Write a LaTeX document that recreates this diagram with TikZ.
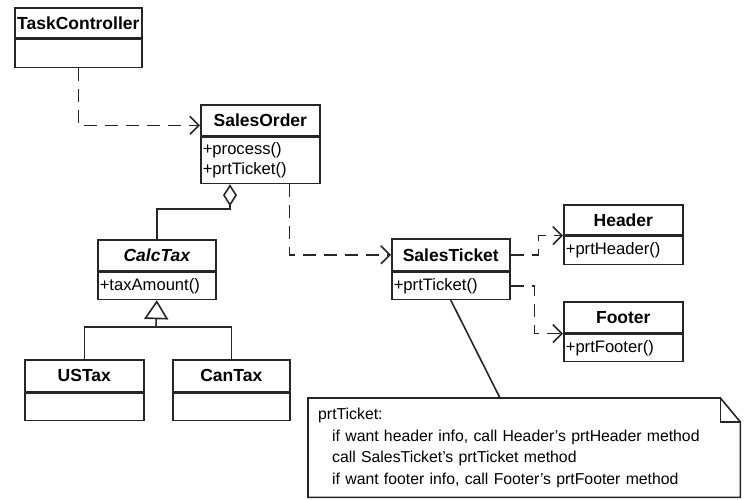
\documentclass[tikz,border=0pt]{standalone}
\usepackage{fontspec}
\setmainfont{Liberation Sans}
\usepackage{tikz}
\usetikzlibrary{arrows.meta,positioning}
\tikzset{
  line/.style={line width=1.6pt,draw=black!85},
  dep/.style={line,dash pattern=on 13pt off 8pt,-{Straight Barb[length=9pt,width=18pt]}},
  aggr/.style={line,-{Diamond[open,length=22pt,width=14pt]}},
  inh/.style={line,-{Triangle[open,length=19pt,width=24pt]}},
  classhead/.style={draw=black!85,line width=1.6pt,inner sep=0pt,anchor=north west,
                    font=\fontsize{17.5}{20}\selectfont\bfseries},
  classbody/.style={draw=black!85,line width=1.6pt,inner xsep=2pt,inner ysep=0pt,
                    align=left,font=\fontsize{16.6}{20}\selectfont},
  notetext/.style={inner xsep=10pt,inner ysep=0pt,align=left,anchor=north west,
                   font=\fontsize{15.8}{21.5}\selectfont}
}
\begin{document}
\begin{tikzpicture}[x=1pt,y=-1pt]
  \useasboundingbox (0,0) rectangle (744,499);

  % classes
  \node[classhead,minimum width=127pt,minimum height=30pt] (tc) at (14,7) {TaskController};
  \node[classbody,below=0pt of tc,text width=123pt,minimum height=28pt] (tcb) {};

  \node[classhead,minimum width=119pt,minimum height=31pt] (so) at (200,104) {SalesOrder};
  \node[classbody,below=0pt of so,text width=115pt,minimum height=46pt] (sob)
    {+process()\\+prtTicket()};

  \node[classhead,minimum width=118pt,minimum height=31pt] (ct) at (97,239)
    {\itshape CalcTax};
  \node[classbody,below=0pt of ct,text width=114pt,minimum height=27pt] (ctb) {+taxAmount()};

  \node[classhead,minimum width=119pt,minimum height=32pt] (ust) at (24,359) {USTax};
  \node[classbody,below=0pt of ust,text width=115pt,minimum height=27pt] (ustb) {};

  \node[classhead,minimum width=117pt,minimum height=32pt] (cnt) at (172,359) {CanTax};
  \node[classbody,below=0pt of cnt,text width=113pt,minimum height=27pt] (cntb) {};

  \node[classhead,minimum width=118pt,minimum height=32pt] (st) at (391,238) {SalesTicket};
  \node[classbody,below=0pt of st,text width=114pt,minimum height=27pt] (stb) {+prtTicket()};

  \node[classhead,minimum width=119pt,minimum height=30pt] (hd) at (563,204) {Header};
  \node[classbody,below=0pt of hd,text width=115pt,minimum height=28pt] (hdb) {+prtHeader()};

  \node[classhead,minimum width=119pt,minimum height=31pt] (ft) at (563,301) {Footer};
  \node[classbody,below=0pt of ft,text width=115pt,minimum height=27pt] (ftb) {+prtFooter()};

  % note
  \node[notetext,minimum width=432pt,minimum height=99pt,text width=412pt] (note) at (308,398)
    {prtTicket:\\
     \hspace*{14pt}if want header info, call Header's prtHeader method\\
     \hspace*{14pt}call SalesTicket's prtTicket method\\
     \hspace*{14pt}if want footer info, call Footer's prtFooter method};
  \draw[line] (note.north west) -- ([xshift=-20pt]note.north east)
    -- ([yshift=-24pt]note.north east) -- (note.south east) -- (note.south west) -- cycle;
  \draw[line] ([xshift=-20pt]note.north east) |- ([yshift=-24pt]note.north east);

  % connectors
  \draw[dep] (tcb.south) |- ([yshift=-5pt]so.west);
  \draw[aggr] (ct.north) -- ++(0,-30) -| ([xshift=30pt]sob.south west);
  \coordinate (split) at (156,327);
  \draw[line] (ust.north) |- (split) -| (cnt.north);
  \draw[inh] (split) -- (ctb.south);
  \draw[dep] ([xshift=-31pt]sob.south east) |- (st.west);
  \draw[dep] (st.east) -- ++(28,0) |- (hd.south west);
  \draw[dep] (stb.east) -- ++(24,0) |- (ft.south west);
  \draw[line] (stb.south) -- ([xshift=192pt]note.north west);
\end{tikzpicture}
\end{document}
